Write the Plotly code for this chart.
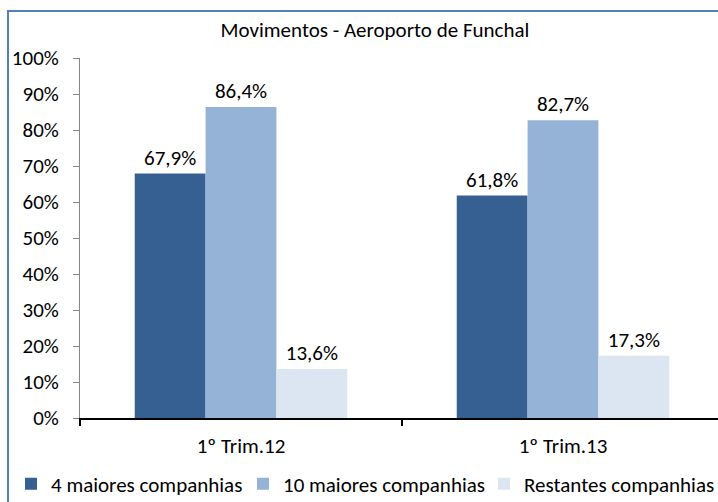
import plotly.graph_objects as go

categories = ["1º Trim.12", "1º Trim.13"]
series_names = ["4 maiores companhias", "10 maiores companhias", "Restantes companhias"]
top4 = [67.9, 61.8]
top10 = [86.4, 82.7]
others = [13.6, 17.3]

colors = ["#366092", "#95B3D7", "#DCE6F2"]
legend_ids = ["legend", "legend2", "legend3"]
legend_x = [11, 243, 484]
font_family = "Carlito, Calibri, Lato, sans-serif"
font_size = 21

figure = go.Figure()
for name, values, color, legend_id in zip(series_names, [top4, top10, others], colors, legend_ids):
    figure.add_trace(
        go.Bar(
            x=categories,
            y=values,
            name=name,
            legend=legend_id,
            marker={"color": color, "line": {"width": 0}},
            texttemplate="%{y:.1f}%",
            textposition="outside",
            textfont={"size": font_size, "color": "#000000", "family": font_family},
            cliponaxis=False,
        )
    )

legends = {}
for legend_id, x_px in zip(legend_ids, legend_x):
    legends[legend_id] = {
        "orientation": "h",
        "xref": "container",
        "yref": "container",
        "x": x_px / 718,
        "xanchor": "left",
        "y": 1 - 484 / 502,
        "yanchor": "middle",
        "font": {"size": font_size, "family": font_family},
        "bgcolor": "rgba(0,0,0,0)",
    }

figure.update_layout(
    width=718,
    height=502,
    margin={"l": 80, "r": 0, "t": 58, "b": 84, "autoexpand": False},
    paper_bgcolor="white",
    plot_bgcolor="white",
    separators=",.",
    barmode="group",
    bargap=0.34,
    bargroupgap=0,
    font={"family": font_family, "size": font_size, "color": "#000000"},
    title={
        "text": "Movimentos - Aeroporto de Funchal",
        "x": 375 / 718,
        "xanchor": "center",
        "xref": "container",
        "y": 1 - 30 / 502,
        "yanchor": "middle",
        "yref": "container",
        "font": {"size": font_size, "family": font_family, "color": "#000000"},
    },
    showlegend=True,
    **legends,
)
figure.update_xaxes(
    type="category",
    range=[-0.5, 1.5 - 6 / 322],
    showline=True,
    linecolor="#000000",
    linewidth=2,
    ticks="outside",
    tickson="boundaries",
    ticklen=6,
    tickcolor="#000000",
    tickwidth=2,
    ticklabelstandoff=8,
    showgrid=False,
    tickfont={"size": font_size},
)
figure.update_yaxes(
    range=[0, 100],
    tickmode="linear",
    tick0=0,
    dtick=10,
    ticksuffix="%",
    showline=True,
    linecolor="#868686",
    linewidth=1,
    ticks="outside",
    ticklen=6,
    tickcolor="#868686",
    ticklabelstandoff=10,
    showgrid=False,
    zeroline=False,
    tickfont={"size": font_size},
)
figure.add_shape(
    type="rect",
    xref="paper",
    yref="paper",
    x0=(8 - 80) / 638,
    x1=1.2,
    y0=-0.4,
    y1=(418 - 11) / 360,
    line={"color": "#4F81BD", "width": 2},
    fillcolor="rgba(0,0,0,0)",
    layer="below",
)

fig = figure
fig.write_html(
    "out.html",
    config={"displayModeBar": False},
    post_script="document.body.style.margin='0';",
)
